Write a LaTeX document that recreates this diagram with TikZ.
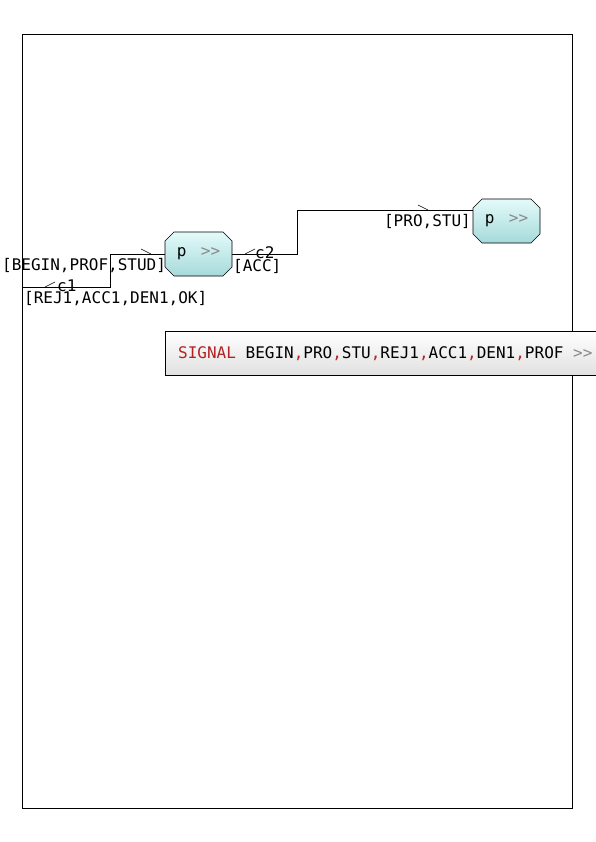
\documentclass[tikz,border=0pt]{standalone}
\usepackage{fontspec}
\setmonofont{DejaVu Sans Mono}
\usetikzlibrary{shapes.misc}
\definecolor{kw}{HTML}{B22222}
\definecolor{gt}{HTML}{8A8A8A}
\definecolor{ptop}{HTML}{E4FAFA}
\definecolor{pbot}{HTML}{A6DADA}
\tikzset{
  lbl/.style={font=\ttfamily\fontsize{16}{19}\selectfont, inner sep=0pt, text=black},
  procbox/.style={chamfered rectangle, chamfered rectangle xsep=4.5pt, chamfered rectangle ysep=4.5pt,
    draw=black, line width=0.6pt, minimum width=67pt, minimum height=44pt, inner sep=0pt,
    top color=ptop, middle color=ptop, bottom color=pbot,
    font=\ttfamily\fontsize{16}{19}\selectfont},
  conn/.style={draw=black, line width=0.7pt},
  tick/.style={draw=black, line width=0.6pt},
}
\begin{document}
\begin{tikzpicture}[x=1pt,y=-1pt]
\useasboundingbox (0,0) rectangle (595,842);
\fill[white] (0,0) rectangle (595,842);
% frame
\node[draw=black, line width=0.7pt, minimum width=550pt, minimum height=774pt, inner sep=0pt, anchor=north west] (frame) at (22,34) {};
% processes
\node[procbox] (p1) at (198.5,254) {p\hspace{0.9em}\textcolor{gt}{>>}};
\node[procbox] (p2) at (506.5,221) {p\hspace{0.9em}\textcolor{gt}{>>}};
% signal box
\node[draw=black, line width=0.7pt, anchor=north west, minimum width=450pt, minimum height=44pt,
      inner sep=0pt, top color=white, middle color=white, bottom color=black!12] (sig) at (165,331) {};
\node[lbl, anchor=west] (sigtxt) at (178,354) {\textcolor{kw}{SIGNAL} BEGIN\textcolor{kw}{,}PRO\textcolor{kw}{,}STU\textcolor{kw}{,}REJ1\textcolor{kw}{,}ACC1\textcolor{kw}{,}DEN1\textcolor{kw}{,}PROF \textcolor{gt}{>>}};
% channel c1
\coordinate (f1) at (22,287);
\coordinate (b1) at (110,254);
\coordinate (b2) at (110,287);
\draw[conn] (p1.west) -- (b1) -- (b2) -- (f1);
\draw[tick] (141,249) -- (151,254);
\draw[tick] (45,287) -- (55,282);
\node[lbl, anchor=west] (c1) at (57,286) {c1};
\node[lbl, anchor=west] (c1a) at (2,266) {[BEGIN,PROF,STUD]};
\node[lbl, anchor=west] (c1b) at (24,299) {[REJ1,ACC1,DEN1,OK]};
% channel c2
\coordinate (b3) at (297,254);
\coordinate (b4) at (297,210);
\draw[conn] (p1.east) -- (b3) -- (b4) -- ([yshift=11pt]p2.west);
\draw[tick] (245,254) -- (255,249);
\draw[tick] (418,205) -- (428,210);
\node[lbl, anchor=west] (c2) at (255,253) {c2};
\node[lbl, anchor=west] (c2a) at (233,266) {[ACC]};
\node[lbl, anchor=east] (c2b) at (471,222) {[PRO,STU]};
\end{tikzpicture}
\end{document}
